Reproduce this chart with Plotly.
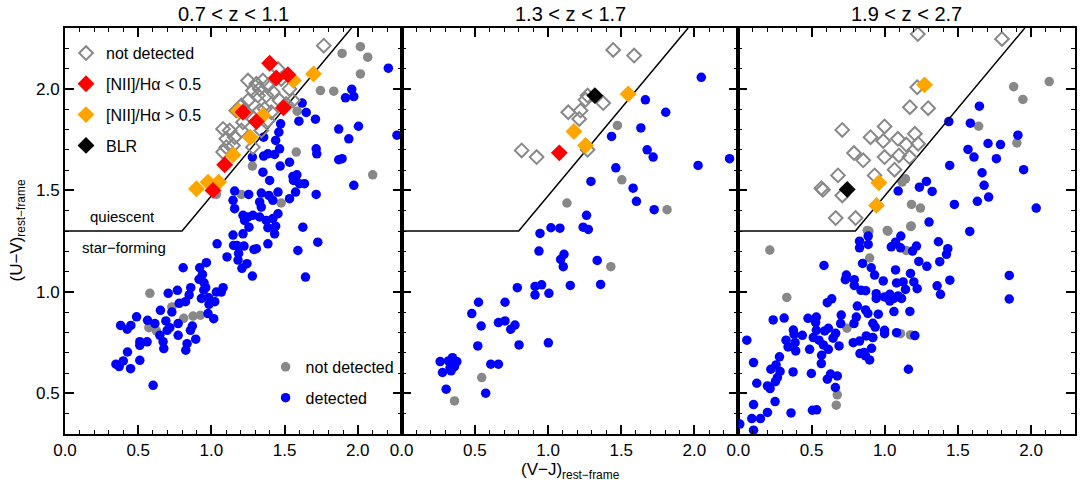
import plotly.graph_objects as go

# ---------------- data ----------------
# UVJ separation: horizontal at 1.3 then a sloped line
UV_FLOOR = 1.3
SLOPE = 0.864
INTERCEPT = 0.609

TITLES = ["0.7 < z < 1.1", "1.3 < z < 1.7", "1.9 < z < 2.7"]
X_TICKS = [0.0, 0.5, 1.0, 1.5, 2.0]
Y_TICKS = [0.5, 1.0, 1.5, 2.0]

# ---- panel 1 (0.7<z<1.1)
p1_det_x = [2.209, 1.959, 1.916, 1.973, 2.268, 1.870, 2.005, 1.939, 1.620, 1.648, 1.711, 1.598, 1.473, 1.461,
            1.439, 1.357, 1.466, 1.386, 1.432, 1.357, 1.280, 1.470, 1.534, 1.716, 1.720, 1.870, 1.893, 1.352,
            1.398, 1.557, 1.584, 1.602, 1.575, 1.636, 1.561, 1.716, 1.973, 1.159, 1.255, 1.341, 1.393, 1.455,
            1.148, 1.159, 1.330, 1.341, 1.420, 1.534, 1.455, 1.216, 1.250, 1.284, 1.330, 1.227, 1.375, 1.420,
            1.257, 1.386, 1.439, 1.625, 1.148, 1.216, 1.432, 1.039, 1.152, 1.175, 1.223, 1.291, 1.307, 1.386,
            1.727, 1.591, 1.186, 1.107, 1.182, 1.243, 1.209, 1.280, 1.643, 0.807, 0.920, 0.966, 0.939, 0.916,
            0.950, 0.961, 0.948, 0.859, 0.848, 1.034, 1.080, 1.068, 0.705, 0.768, 0.780, 0.823, 0.932, 0.982,
            0.984, 1.023, 0.977, 1.016, 0.652, 0.730, 0.489, 0.564, 0.614, 0.689, 0.716, 0.698, 0.773, 0.870,
            0.857, 0.773, 0.893, 0.380, 0.425, 0.450, 0.648, 0.670, 0.675, 0.561, 0.511, 0.511, 0.834, 0.825,
            0.427, 0.398, 0.348, 0.370, 0.511, 0.448, 0.602]
p1_det_y = [2.102, 1.998, 1.956, 1.962, 1.772, 1.802, 1.816, 1.754, 1.930, 1.884, 1.851, 1.841, 1.828, 1.787,
            1.746, 1.762, 1.705, 1.680, 1.677, 1.669, 1.664, 1.620, 1.639, 1.705, 1.680, 1.651, 1.656, 1.590,
            1.549, 1.569, 1.577, 1.533, 1.492, 1.533, 1.549, 1.480, 1.525, 1.497, 1.480, 1.487, 1.475, 1.492,
            1.451, 1.410, 1.443, 1.418, 1.451, 1.459, 1.385, 1.377, 1.369, 1.377, 1.369, 1.352, 1.352, 1.361,
            1.319, 1.316, 1.324, 1.319, 1.280, 1.286, 1.286, 1.237, 1.229, 1.229, 1.226, 1.209, 1.213, 1.237,
            1.245, 1.204, 1.190, 1.172, 1.157, 1.139, 1.116, 1.078, 1.073, 1.119, 1.119, 1.144, 1.086, 1.062,
            1.045, 1.021, 1.009, 1.021, 0.985, 0.999, 1.021, 0.999, 0.993, 1.008, 0.944, 0.952, 0.968, 0.971,
            0.939, 0.952, 0.893, 0.868, 0.909, 0.901, 0.877, 0.860, 0.844, 0.857, 0.824, 0.811, 0.844, 0.832,
            0.811, 0.786, 0.767, 0.835, 0.816, 0.835, 0.786, 0.755, 0.721, 0.754, 0.755, 0.737, 0.745, 0.713,
            0.704, 0.660, 0.644, 0.632, 0.663, 0.622, 0.540]
p1_nd_x = [1.893, 2.018, 2.068, 2.018, 1.745, 1.836, 1.586, 1.580, 1.280, 2.102, 1.205, 1.477, 1.034,
           0.580, 0.730, 0.811, 0.875, 0.925, 0.573, 0.625]
p1_nd_y = [2.175, 2.208, 2.156, 2.074, 1.992, 1.989, 1.890, 1.689, 1.620, 1.577, 1.480, 1.438, 1.480,
           0.993, 0.926, 0.870, 0.881, 0.885, 0.824, 0.808]
p1_ndd_x = [1.768, 1.250, 1.307, 1.352, 1.330, 1.386, 1.420, 1.375, 1.318, 1.284, 1.455, 1.534, 1.466, 1.511,
            1.250, 1.205, 1.170, 1.239, 1.330, 1.364, 1.409, 1.386, 1.080, 1.125, 1.102, 1.159, 1.205, 1.216,
            1.102, 1.080, 1.148, 1.284, 1.341, 1.477, 1.557]
p1_ndd_y = [2.213, 2.041, 2.025, 2.041, 2.000, 2.016, 1.984, 1.967, 1.967, 1.992, 2.098, 2.000, 1.943, 1.926,
            1.943, 1.918, 1.893, 1.885, 1.893, 1.902, 1.885, 1.844, 1.803, 1.795, 1.754, 1.762, 1.795, 1.836,
            1.713, 1.689, 1.721, 1.713, 1.795, 2.049, 1.943]
p1_low_x = [1.398, 1.443, 1.523, 1.493, 1.216, 1.307, 1.091, 1.011]
p1_low_y = [2.126, 2.054, 2.070, 1.907, 1.885, 1.839, 1.626, 1.500]
p1_high_x = [1.698, 1.561, 1.186, 1.352, 1.266, 1.148, 0.898, 0.977, 1.050]
p1_high_y = [2.074, 2.041, 1.893, 1.869, 1.762, 1.675, 1.508, 1.541, 1.541]
p1_blr_x = []
p1_blr_y = []

# ---- panel 2 (1.3<z<1.7)
p2_det_x = [2.047, 1.665, 1.804, 1.634, 1.434, 1.677, 1.718, 1.463, 2.025, 2.240, 1.293, 1.581, 1.604, 1.725,
            1.263, 0.945, 1.020, 1.081, 1.240, 1.275, 0.938, 1.086, 1.109, 1.104, 1.336, 1.359, 1.152, 0.790,
            0.911, 0.956, 0.911, 1.006, 0.525, 0.706, 0.479, 0.543, 0.661, 0.706, 0.774, 0.745, 0.802, 1.002,
            0.520, 0.263, 0.320, 0.347, 0.377, 0.361, 0.331, 0.338, 0.279, 0.609, 0.661, 0.304, 0.574]
p2_det_y = [2.057, 1.946, 1.885, 1.808, 1.766, 1.700, 1.664, 1.611, 1.623, 1.656, 1.544, 1.511, 1.446, 1.405,
            1.377, 1.288, 1.316, 1.314, 1.319, 1.308, 1.201, 1.160, 1.185, 1.124, 1.155, 1.037, 1.032, 1.021,
            1.027, 1.035, 0.985, 0.993, 0.949, 0.949, 0.893, 0.832, 0.849, 0.857, 0.837, 0.816, 0.739, 0.749,
            0.734, 0.657, 0.660, 0.676, 0.657, 0.632, 0.627, 0.611, 0.603, 0.644, 0.644, 0.521, 0.501]
p2_nd_x = [1.474, 1.504, 1.129, 1.813, 1.429, 0.547, 0.361]
p2_nd_y = [1.820, 1.552, 1.438, 1.405, 1.124, 0.578, 0.463]
p2_ndd_x = [1.445, 1.588, 1.270, 1.256, 1.377, 1.138, 1.222, 1.213, 0.820, 0.922, 1.270]
p2_ndd_y = [2.192, 2.164, 1.967, 1.946, 1.930, 1.885, 1.893, 1.852, 1.697, 1.664, 1.700]
p2_low_x = [1.077]
p2_low_y = [1.685]
p2_high_x = [1.547, 1.177, 1.256]
p2_high_y = [1.975, 1.790, 1.721]
p2_blr_x = [1.320]
p2_blr_y = [1.967]

# ---- panel 3 (1.9<z<2.7)
p3_det_x = [1.647, 1.438, 1.585, 1.910, 1.706, 1.791, 1.569, 1.610, 1.763, 1.949, 1.444, 1.665, 1.285, 1.237,
            1.324, 1.092, 1.679, 1.633, 1.710, 1.476, 2.035, 1.303, 1.581, 0.828, 0.828, 0.887, 0.887, 1.045,
            1.074, 1.110, 1.108, 1.190, 1.217, 1.367, 1.431, 1.422, 1.376, 1.233, 1.288, 1.074, 1.176, 1.445,
            1.358, 1.381, 1.851, 1.851, 0.585, 0.849, 0.908, 0.931, 0.738, 0.731, 0.792, 0.792, 0.838, 0.870,
            0.990, 1.081, 1.126, 1.142, 1.199, 1.222, 0.942, 0.942, 0.999, 1.035, 1.035, 1.063, 1.092, 1.115,
            0.813, 0.608, 0.638, 0.869, 0.885, 0.956, 1.063, 1.172, 0.703, 0.699, 0.806, 0.790, 0.919, 0.935,
            0.999, 0.999, 1.081, 1.206, 0.238, 0.313, 0.476, 0.533, 0.528, 0.533, 0.590, 0.615, 0.665, 0.647,
            0.512, 0.551, 0.581, 0.615, 0.688, 0.785, 0.828, 0.874, 0.919, 0.831, 0.858, 0.869, 0.897, 0.910,
            0.376, 0.381, 0.326, 0.340, 0.388, 0.392, 0.437, 0.487, 0.281, 0.258, 0.285, 0.222, 0.267, 0.253,
            0.199, 0.217, 0.374, 0.499, 0.569, 0.567, 0.608, 0.630, 0.676, 0.663, 1.162, 0.058, 0.104, 0.126,
            0.104, 0.251, 0.092, 0.151, 0.199, 0.360, 0.506, 0.535, 0.010, 0.104]
p3_det_y = [1.915, 1.839, 1.831, 1.772, 1.731, 1.726, 1.702, 1.664, 1.656, 1.602, 1.623, 1.587, 1.544, 1.516,
            1.495, 1.497, 1.525, 1.446, 1.467, 1.431, 1.413, 1.344, 1.298, 1.250, 1.217, 1.275, 1.234, 1.222,
            1.245, 1.275, 1.217, 1.201, 1.226, 1.247, 1.213, 1.185, 1.149, 1.150, 1.126, 1.108, 1.091, 1.058,
            1.030, 0.988, 1.081, 0.965, 1.130, 1.140, 1.119, 1.083, 1.083, 1.060, 1.060, 1.032, 1.008, 1.006,
            1.054, 1.044, 1.049, 1.012, 1.049, 1.016, 0.991, 0.968, 0.975, 0.988, 0.955, 0.968, 0.980, 0.968,
            0.930, 0.947, 0.966, 0.911, 0.894, 0.890, 0.903, 0.904, 0.886, 0.844, 0.876, 0.844, 0.845, 0.827,
            0.811, 0.794, 0.799, 0.785, 0.862, 0.871, 0.870, 0.876, 0.849, 0.811, 0.808, 0.821, 0.796, 0.772,
            0.775, 0.762, 0.739, 0.717, 0.734, 0.750, 0.758, 0.783, 0.775, 0.696, 0.702, 0.685, 0.665, 0.722,
            0.812, 0.791, 0.762, 0.729, 0.750, 0.709, 0.786, 0.717, 0.680, 0.640, 0.608, 0.619, 0.578, 0.558,
            0.537, 0.524, 0.606, 0.598, 0.688, 0.647, 0.570, 0.595, 0.586, 0.529, 0.619, 0.762, 0.652, 0.550,
            0.445, 0.460, 0.376, 0.376, 0.406, 0.404, 0.417, 0.419, 0.349, 0.319]
p3_nd_x = [1.881, 2.124, 1.944, 1.642, 1.903, 1.142, 1.119, 1.183, 1.244, 1.181, 0.881, 1.017,
           0.215, 0.331, 0.892, 1.022, 1.178, 0.897, 1.147, 0.742, 1.108, 1.176, 0.676, 0.669]
p3_nd_y = [2.011, 2.036, 1.948, 1.816, 1.734, 1.557, 1.541, 1.431, 1.413, 1.325, 1.303, 1.303,
           1.206, 0.973, 1.299, 1.299, 1.322, 1.167, 1.204, 0.821, 0.794, 0.788, 0.493, 0.442]
p3_ndd_x = [1.226, 1.801, 1.222, 1.172, 1.297, 0.710, 0.999, 0.903, 0.990, 1.090, 1.206, 1.228, 1.147, 1.169,
            1.097, 0.999, 0.790, 0.853, 1.067, 0.681, 0.931, 0.567, 0.578, 0.710, 0.665, 0.801]
p3_ndd_y = [2.270, 2.246, 2.008, 1.910, 1.905, 1.798, 1.815, 1.762, 1.743, 1.754, 1.779, 1.730, 1.726, 1.664,
            1.672, 1.664, 1.684, 1.648, 1.602, 1.574, 1.574, 1.511, 1.503, 1.475, 1.364, 1.364]
p3_low_x = []
p3_low_y = []
p3_high_x = [1.272, 0.960, 0.944]
p3_high_y = [2.020, 1.538, 1.426]
p3_blr_x = [0.744]
p3_blr_y = [1.505]

PANELS = [
    dict(det=(p1_det_x, p1_det_y), nd=(p1_nd_x, p1_nd_y), ndd=(p1_ndd_x, p1_ndd_y),
         low=(p1_low_x, p1_low_y), high=(p1_high_x, p1_high_y), blr=(p1_blr_x, p1_blr_y)),
    dict(det=(p2_det_x, p2_det_y), nd=(p2_nd_x, p2_nd_y), ndd=(p2_ndd_x, p2_ndd_y),
         low=(p2_low_x, p2_low_y), high=(p2_high_x, p2_high_y), blr=(p2_blr_x, p2_blr_y)),
    dict(det=(p3_det_x, p3_det_y), nd=(p3_nd_x, p3_nd_y), ndd=(p3_ndd_x, p3_ndd_y),
         low=(p3_low_x, p3_low_y), high=(p3_high_x, p3_high_y), blr=(p3_blr_x, p3_blr_y)),
]

X_RANGE = [0.0, 2.3]
Y_RANGE = [0.3, 2.3]

# ---------------- figure ----------------
FONT = "Liberation Sans, Arial, Helvetica, sans-serif"
BLUE = "#0000ff"
GRAY = "#888888"
RED = "#ff0000"
ORANGE = "#ffa500"

fig = go.Figure()

knee_x = (UV_FLOOR - INTERCEPT) / SLOPE
top_x = (Y_RANGE[1] - INTERCEPT) / SLOPE
line_x = [X_RANGE[0], knee_x, top_x]
line_y = [UV_FLOOR, UV_FLOOR, Y_RANGE[1]]

shown = set()


def want_legend(key, xs):
    """Show each legend entry once, from the first panel that has data for it."""
    if key in shown or len(xs) == 0:
        return False
    shown.add(key)
    return True


for i, p in enumerate(PANELS):
    xa = "x" if i == 0 else f"x{i+1}"
    ya = "y" if i == 0 else f"y{i+1}"
    fig.add_trace(go.Scatter(x=p["nd"][0], y=p["nd"][1], mode="markers", xaxis=xa, yaxis=ya,
                             marker=dict(color=GRAY, size=9.5, line=dict(width=0)),
                             name="not detected", legend="legend2", legendgroup="a", legendrank=1,
                             showlegend=want_legend("nd", p["nd"][0])))
    fig.add_trace(go.Scatter(x=p["det"][0], y=p["det"][1], mode="markers", xaxis=xa, yaxis=ya,
                             marker=dict(color=BLUE, size=9.5, line=dict(width=0)),
                             name="detected", legend="legend2", legendgroup="b", legendrank=2,
                             showlegend=want_legend("det", p["det"][0])))
    fig.add_trace(go.Scatter(x=line_x, y=line_y, mode="lines", xaxis=xa, yaxis=ya,
                             line=dict(color="black", width=1.5), showlegend=False, hoverinfo="skip"))
    fig.add_trace(go.Scatter(x=p["ndd"][0], y=p["ndd"][1], mode="markers", xaxis=xa, yaxis=ya,
                             marker=dict(symbol="diamond-open", color=GRAY, size=10.5, line=dict(width=2, color=GRAY)),
                             name="not detected", legend="legend", legendgroup="c", legendrank=1,
                             showlegend=want_legend("ndd", p["ndd"][0])))
    fig.add_trace(go.Scatter(x=p["high"][0], y=p["high"][1], mode="markers", xaxis=xa, yaxis=ya,
                             marker=dict(symbol="diamond", color=ORANGE, size=13, line=dict(width=0)),
                             name="[NII]/Hα > 0.5", legend="legend", legendgroup="e", legendrank=3,
                             showlegend=want_legend("high", p["high"][0])))
    fig.add_trace(go.Scatter(x=p["low"][0], y=p["low"][1], mode="markers", xaxis=xa, yaxis=ya,
                             marker=dict(symbol="diamond", color=RED, size=13, line=dict(width=0)),
                             name="[NII]/Hα < 0.5", legend="legend", legendgroup="d", legendrank=2,
                             showlegend=want_legend("low", p["low"][0])))
    fig.add_trace(go.Scatter(x=p["blr"][0], y=p["blr"][1], mode="markers", xaxis=xa, yaxis=ya,
                             marker=dict(symbol="diamond", color="black", size=13, line=dict(width=0)),
                             name="BLR", legend="legend", legendgroup="f", legendrank=4,
                             showlegend=want_legend("blr", p["blr"][0])))

axis_common = dict(showline=True, linecolor="black", linewidth=2, mirror="allticks",
                   ticks="inside", ticklen=9, tickwidth=1.5, tickcolor="black",
                   showgrid=False, zeroline=False, tickformat=".1f",
                   minor=dict(ticks="inside", ticklen=4, tickwidth=1, tickcolor="black", dtick=0.1, showgrid=False),
                   tickfont=dict(family=FONT, size=17, color="black"))

layout_axes = {}
for i in range(3):
    xk = "xaxis" if i == 0 else f"xaxis{i+1}"
    yk = "yaxis" if i == 0 else f"yaxis{i+1}"
    xa = "x" if i == 0 else f"x{i+1}"
    ya = "y" if i == 0 else f"y{i+1}"
    layout_axes[xk] = dict(axis_common, domain=[i / 3, (i + 1) / 3], range=X_RANGE,
                           tickvals=X_TICKS, anchor=ya)
    layout_axes[yk] = dict(axis_common, domain=[0, 1], range=Y_RANGE, tickvals=Y_TICKS,
                           anchor=xa, showticklabels=(i == 0))

fig.update_layout(**layout_axes)

annotations = []
for i, t in enumerate(TITLES):
    annotations.append(dict(text=t, x=(i + 0.5) / 3, y=1, xref="paper", yref="paper",
                            xanchor="center", yanchor="bottom", yshift=1, showarrow=False,
                            font=dict(family=FONT, size=20, color="black")))
annotations.append(dict(text="(V−J)<sub>rest−frame</sub>", x=0.5, y=-0.092, xref="paper", yref="paper",
                        xanchor="center", yanchor="middle", showarrow=False,
                        font=dict(family=FONT, size=17, color="black")))
annotations.append(dict(text="(U−V)<sub>rest−frame</sub>", x=-0.047, y=0.5, xref="paper", yref="paper",
                        xanchor="center", yanchor="middle", textangle=-90, showarrow=False,
                        font=dict(family=FONT, size=17, color="black")))
annotations.append(dict(text="quiescent", x=0.395, y=1.373, xref="x", yref="y", showarrow=False,
                        xanchor="center", yanchor="middle", font=dict(family=FONT, size=15, color="black")))
annotations.append(dict(text="star−forming", x=0.40, y=1.221, xref="x", yref="y", showarrow=False,
                        xanchor="center", yanchor="middle", font=dict(family=FONT, size=15, color="black")))

fig.update_layout(
    width=1080, height=486,
    margin=dict(l=65, r=3, t=28, b=52),
    paper_bgcolor="white", plot_bgcolor="white",
    font=dict(family=FONT, color="black"),
    annotations=annotations,
    legend=dict(x=0.001, y=0.98, xanchor="left", yanchor="top", bgcolor="rgba(0,0,0,0)",
                font=dict(family=FONT, size=16, color="black"), tracegroupgap=7, itemsizing="trace"),
    legend2=dict(x=0.1986, y=0.207, xanchor="left", yanchor="top", bgcolor="rgba(0,0,0,0)",
                 font=dict(family=FONT, size=16, color="black"), tracegroupgap=7, itemsizing="trace"),
)

fig.write_html("out.html")
